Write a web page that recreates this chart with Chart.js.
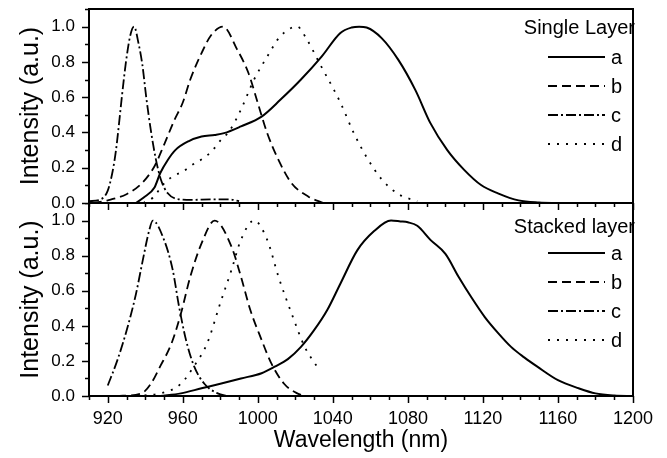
<!DOCTYPE html>
<html lang="en">
<head>
    <meta charset="UTF-8">
    <title>Intensity vs wavelength</title>
    <style>
        body { margin: 0; background: #fff; }
        canvas { position: absolute; left: 0; }
    </style>
</head>
<body>
    <canvas id="topPanel" width="667" height="212" style="top:0"></canvas>
    <canvas id="bottomPanel" width="667" height="255" style="top:203px"></canvas>

    <script src="https://cdn.jsdelivr.net/npm/chart.js"></script>

    <script>
        // Single layer curves (wavelength in nm, normalised intensity)
        const singleA_nm = [935, 939, 945, 948, 952, 956, 963, 970, 977, 982, 991, 1002, 1012, 1023, 1034, 1044, 1050, 1054, 1058, 1066, 1075, 1084, 1092, 1101, 1110, 1119, 1128, 1139, 1150, 1160];
        const singleA    = [0, 0.03, 0.09, 0.17, 0.244, 0.30, 0.35, 0.377, 0.386, 0.396, 0.434, 0.49, 0.585, 0.70, 0.83, 0.964, 0.995, 1.0, 0.995, 0.935, 0.81, 0.64, 0.453, 0.30, 0.188, 0.102, 0.055, 0.015, 0.003, 0];
        const singleB_nm = [912, 920, 930, 938, 945, 950, 955.5, 960, 964, 970, 975, 981.5, 989, 995, 1000, 1005, 1011, 1018, 1027, 1035];
        const singleB    = [0, 0.015, 0.05, 0.11, 0.21, 0.33, 0.47, 0.57, 0.70, 0.85, 0.95, 1.0, 0.87, 0.737, 0.566, 0.396, 0.244, 0.112, 0.036, 0];
        const singleC_nm = [910, 916, 920, 922.6, 924.4, 926, 927.5, 929.7, 932, 934, 936.5, 938.5, 940.5, 943, 945.6, 948.4, 952, 957, 965, 975, 985, 990];
        const singleC    = [0.01, 0.02, 0.07, 0.18, 0.30, 0.45, 0.6, 0.8, 0.95, 1.0, 0.9, 0.78, 0.6, 0.41, 0.25, 0.13, 0.055, 0.023, 0.018, 0.02, 0.02, 0.01];
        const singleD_nm = [939, 944, 950, 955, 960, 965, 971, 976, 980, 985, 991, 998, 1005, 1012, 1021, 1026, 1033, 1044, 1051, 1058, 1066, 1075, 1085];
        const singleD    = [0, 0.03, 0.11, 0.153, 0.178, 0.216, 0.254, 0.30, 0.354, 0.41, 0.53, 0.70, 0.83, 0.945, 1.0, 0.93, 0.79, 0.57, 0.40, 0.26, 0.135, 0.05, 0.01];

        // Stacked layer curves
        const stackedA_nm = [948, 959, 970, 980, 991, 1002, 1009, 1016, 1023, 1030, 1037, 1044, 1053, 1062, 1071, 1076, 1080, 1085, 1092, 1100, 1107, 1114, 1121, 1128, 1135, 1142, 1149, 1160, 1171, 1180, 1190, 1200];
        const stackedA    = [0, 0.015, 0.044, 0.07, 0.10, 0.13, 0.167, 0.21, 0.28, 0.375, 0.49, 0.64, 0.83, 0.94, 1.0, 0.995, 0.99, 0.97, 0.89, 0.81, 0.68, 0.56, 0.45, 0.36, 0.28, 0.22, 0.167, 0.09, 0.044, 0.015, 0.003, 0];
        const stackedB_nm = [925, 938, 943, 948, 954, 959, 964, 970, 977, 986, 991, 996, 1002, 1007, 1014, 1021, 1025];
        const stackedB    = [0, 0.015, 0.07, 0.17, 0.30, 0.47, 0.68, 0.87, 1.0, 0.85, 0.68, 0.49, 0.32, 0.19, 0.07, 0.015, 0];
        const stackedC_nm = [920, 925, 930.5, 935, 938.6, 942, 944, 950, 954.6, 958, 961.7, 966, 971.5, 978.6, 984];
        const stackedC    = [0.06, 0.2, 0.39, 0.58, 0.77, 0.94, 1.0, 0.89, 0.72, 0.51, 0.32, 0.17, 0.07, 0.015, 0];
        const stackedD_nm = [930, 948, 959, 966, 973, 980, 986, 991, 998, 1005, 1011, 1018, 1025, 1032];
        const stackedD    = [0, 0.015, 0.07, 0.17, 0.30, 0.53, 0.72, 0.89, 1.0, 0.89, 0.68, 0.47, 0.28, 0.16];

        const curveLabels = ['a', 'b', 'c', 'd'];
        const dashes = [[], [9, 5], [10, 3, 2, 3], [2, 7]];

        const FONT = '"Liberation Sans", Arial, sans-serif';

        function series(nm, vals) {
            return nm.map((x, i) => ({ x: x, y: vals[i] }));
        }

        // frame around the plot area + outward tick marks (long = labelled)
        const frameTicks = {
            id: 'frameTicks',
            afterDraw(chart) {
                const ctx = chart.ctx;
                const a = chart.chartArea;
                const xs = chart.scales.x, ys = chart.scales.y;
                ctx.save();
                ctx.strokeStyle = '#000';
                ctx.lineWidth = 1.5;
                ctx.beginPath();
                xs.ticks.forEach(t => {
                    const px = Math.round(xs.getPixelForValue(t.value)) + 0.5;
                    const len = (t.value - 920) % 40 === 0 ? 7 : 4;
                    ctx.moveTo(px, a.bottom);
                    ctx.lineTo(px, a.bottom + len);
                });
                ys.ticks.forEach(t => {
                    const k = Math.round(t.value * 10);
                    const py = Math.round(ys.getPixelForValue(t.value)) + 0.5;
                    const len = k % 2 === 0 ? 7 : 4;
                    ctx.moveTo(a.left, py);
                    ctx.lineTo(a.left - len, py);
                });
                ctx.stroke();
                ctx.lineWidth = 2;
                ctx.strokeRect(a.left, a.top, a.right - a.left, a.bottom - a.top);
                ctx.restore();
            }
        };

        // legend drawn inside the plot, top right
        const panelLegend = {
            id: 'panelLegend',
            afterDatasetsDraw(chart, args, opts) {
                const ctx = chart.ctx;
                const a = chart.chartArea;
                ctx.save();
                ctx.fillStyle = '#000';
                ctx.font = '20px ' + FONT;
                ctx.textBaseline = 'middle';
                ctx.textAlign = 'right';
                ctx.fillText(opts.title, a.right + 2, a.top + opts.titleOffset);
                ctx.textAlign = 'left';
                chart.data.datasets.forEach((ds, i) => {
                    const y = a.top + opts.firstRow + i * opts.rowGap;
                    ctx.beginPath();
                    ctx.setLineDash(ds.borderDash);
                    ctx.lineWidth = ds.borderWidth;
                    ctx.strokeStyle = ds.borderColor;
                    ctx.moveTo(a.right - 85, y);
                    ctx.lineTo(a.right - 28, y);
                    ctx.stroke();
                    ctx.setLineDash([]);
                    ctx.fillText(ds.label, a.right - 22, y + 1);
                });
                ctx.restore();
            }
        };

        function makePanel(id, sets, title, legendPos, isBottom) {
            const datasets = sets.map((s, i) => ({
                label: curveLabels[i],
                data: series(s[0], s[1]),
                borderColor: '#000',
                borderWidth: i === 0 ? 2 : 1.8,
                borderDash: dashes[i],
                pointRadius: 0,
                cubicInterpolationMode: 'monotone',
                fill: false
            }));

            return new Chart(document.getElementById(id), {
                type: 'line',
                data: { datasets: datasets },
                plugins: [frameTicks, panelLegend],
                options: {
                    responsive: false,
                    animation: false,
                    layout: { padding: { top: isBottom ? 0 : 9, right: 34, bottom: isBottom ? 0 : 9, left: 0 } },
                    plugins: {
                        legend: { display: false },
                        tooltip: { enabled: false },
                        panelLegend: Object.assign({ title: title }, legendPos)
                    },
                    scales: {
                        x: {
                            type: 'linear',
                            min: 910,
                            max: 1200,
                            grid: { display: false, drawTicks: false },
                            border: { display: false },
                            ticks: {
                                display: isBottom,
                                stepSize: 10,
                                autoSkip: false,
                                maxRotation: 0,
                                padding: 12,
                                color: '#000',
                                font: { family: FONT, size: 18 },
                                callback: v => ((v - 920) % 40 === 0 ? v : '')
                            },
                            title: {
                                display: isBottom,
                                text: 'Wavelength (nm)',
                                color: '#000',
                                font: { family: FONT, size: 23 },
                                padding: { top: 0, bottom: 4 }
                            },
                            afterFit: s => {
                                s.height = isBottom ? 62 : 0;
                                s.paddingLeft = 0;
                                s.paddingRight = 0;
                            }
                        },
                        y: {
                            min: 0,
                            max: 1.1,
                            grid: { display: false, drawTicks: false },
                            border: { display: false },
                            ticks: {
                                stepSize: 0.1,
                                autoSkip: false,
                                padding: 14,
                                color: '#000',
                                font: { family: FONT, size: 17 },
                                callback: v => {
                                    const k = Math.round(v * 10);
                                    return (k % 2 === 0 && k <= 10) ? (k / 10).toFixed(1) : '';
                                }
                            },
                            title: {
                                display: true,
                                text: 'Intensity (a.u.)',
                                color: '#000',
                                font: { family: FONT, size: 25 },
                                padding: { top: 16, bottom: 0 }
                            },
                            afterFit: s => {
                                s.width = 89;
                                s.paddingTop = 0;
                                s.paddingBottom = 0;
                            }
                        }
                    }
                }
            });
        }

        makePanel('topPanel',
            [[singleA_nm, singleA], [singleB_nm, singleB], [singleC_nm, singleC], [singleD_nm, singleD]],
            'Single Layer', { titleOffset: 19, firstRow: 48, rowGap: 29 }, false);

        makePanel('bottomPanel',
            [[stackedA_nm, stackedA], [stackedB_nm, stackedB], [stackedC_nm, stackedC], [stackedD_nm, stackedD]],
            'Stacked layer', { titleOffset: 24, firstRow: 50, rowGap: 29 }, true);
    </script>
</body>
</html>
